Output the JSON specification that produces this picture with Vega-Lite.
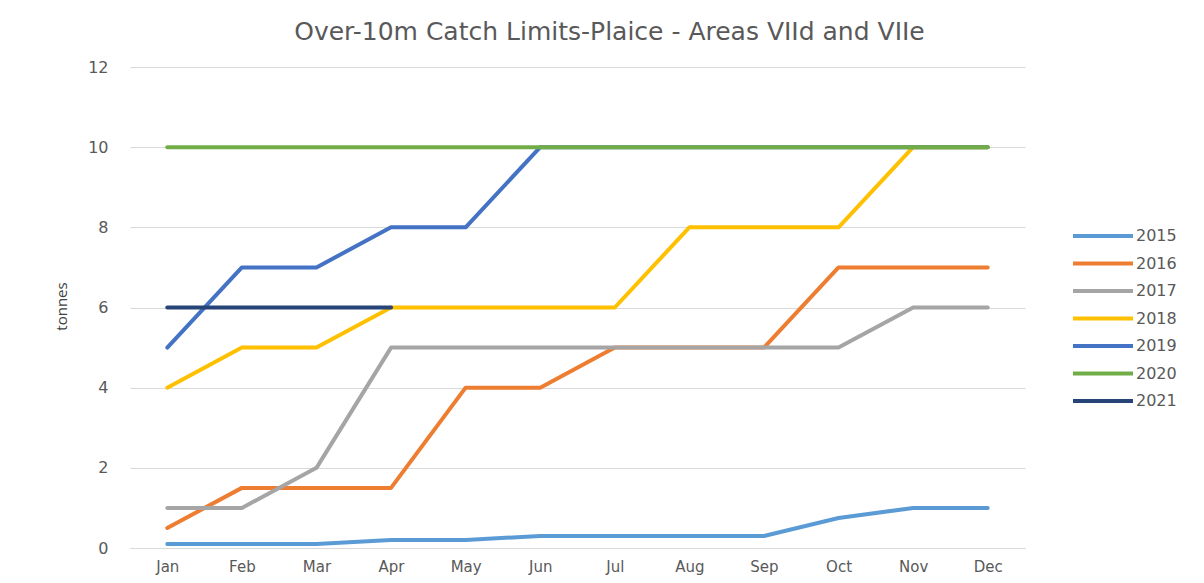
{
  "$schema": "https://vega.github.io/schema/vega-lite/v6.json",
  "width": 895,
  "height": 481,
  "autosize": {"type": "none"},
  "padding": {"left": 130, "top": 67, "right": 179, "bottom": 35},
  "background": "white",
  "title": {
    "text": "Over-10m Catch Limits-Plaice - Areas VIId and VIIe",
    "font": "DejaVu Sans",
    "fontSize": 25,
    "fontWeight": "normal",
    "color": "#595959",
    "anchor": "middle",
    "dx": 32,
    "offset": 14
  },
  "config": {
    "view": {"stroke": null},
    "font": "DejaVu Sans"
  },
  "data": {
    "values": [
      {"month": "Jan", "year": "2015", "v": 0.1},
      {"month": "Feb", "year": "2015", "v": 0.1},
      {"month": "Mar", "year": "2015", "v": 0.1},
      {"month": "Apr", "year": "2015", "v": 0.2},
      {"month": "May", "year": "2015", "v": 0.2},
      {"month": "Jun", "year": "2015", "v": 0.3},
      {"month": "Jul", "year": "2015", "v": 0.3},
      {"month": "Aug", "year": "2015", "v": 0.3},
      {"month": "Sep", "year": "2015", "v": 0.3},
      {"month": "Oct", "year": "2015", "v": 0.75},
      {"month": "Nov", "year": "2015", "v": 1},
      {"month": "Dec", "year": "2015", "v": 1},
      {"month": "Jan", "year": "2016", "v": 0.5},
      {"month": "Feb", "year": "2016", "v": 1.5},
      {"month": "Mar", "year": "2016", "v": 1.5},
      {"month": "Apr", "year": "2016", "v": 1.5},
      {"month": "May", "year": "2016", "v": 4},
      {"month": "Jun", "year": "2016", "v": 4},
      {"month": "Jul", "year": "2016", "v": 5},
      {"month": "Aug", "year": "2016", "v": 5},
      {"month": "Sep", "year": "2016", "v": 5},
      {"month": "Oct", "year": "2016", "v": 7},
      {"month": "Nov", "year": "2016", "v": 7},
      {"month": "Dec", "year": "2016", "v": 7},
      {"month": "Jan", "year": "2017", "v": 1},
      {"month": "Feb", "year": "2017", "v": 1},
      {"month": "Mar", "year": "2017", "v": 2},
      {"month": "Apr", "year": "2017", "v": 5},
      {"month": "May", "year": "2017", "v": 5},
      {"month": "Jun", "year": "2017", "v": 5},
      {"month": "Jul", "year": "2017", "v": 5},
      {"month": "Aug", "year": "2017", "v": 5},
      {"month": "Sep", "year": "2017", "v": 5},
      {"month": "Oct", "year": "2017", "v": 5},
      {"month": "Nov", "year": "2017", "v": 6},
      {"month": "Dec", "year": "2017", "v": 6},
      {"month": "Jan", "year": "2018", "v": 4},
      {"month": "Feb", "year": "2018", "v": 5},
      {"month": "Mar", "year": "2018", "v": 5},
      {"month": "Apr", "year": "2018", "v": 6},
      {"month": "May", "year": "2018", "v": 6},
      {"month": "Jun", "year": "2018", "v": 6},
      {"month": "Jul", "year": "2018", "v": 6},
      {"month": "Aug", "year": "2018", "v": 8},
      {"month": "Sep", "year": "2018", "v": 8},
      {"month": "Oct", "year": "2018", "v": 8},
      {"month": "Nov", "year": "2018", "v": 10},
      {"month": "Dec", "year": "2018", "v": 10},
      {"month": "Jan", "year": "2019", "v": 5},
      {"month": "Feb", "year": "2019", "v": 7},
      {"month": "Mar", "year": "2019", "v": 7},
      {"month": "Apr", "year": "2019", "v": 8},
      {"month": "May", "year": "2019", "v": 8},
      {"month": "Jun", "year": "2019", "v": 10},
      {"month": "Jul", "year": "2019", "v": 10},
      {"month": "Aug", "year": "2019", "v": 10},
      {"month": "Sep", "year": "2019", "v": 10},
      {"month": "Oct", "year": "2019", "v": 10},
      {"month": "Nov", "year": "2019", "v": 10},
      {"month": "Dec", "year": "2019", "v": 10},
      {"month": "Jan", "year": "2020", "v": 10},
      {"month": "Feb", "year": "2020", "v": 10},
      {"month": "Mar", "year": "2020", "v": 10},
      {"month": "Apr", "year": "2020", "v": 10},
      {"month": "May", "year": "2020", "v": 10},
      {"month": "Jun", "year": "2020", "v": 10},
      {"month": "Jul", "year": "2020", "v": 10},
      {"month": "Aug", "year": "2020", "v": 10},
      {"month": "Sep", "year": "2020", "v": 10},
      {"month": "Oct", "year": "2020", "v": 10},
      {"month": "Nov", "year": "2020", "v": 10},
      {"month": "Dec", "year": "2020", "v": 10},
      {"month": "Jan", "year": "2021", "v": 6},
      {"month": "Feb", "year": "2021", "v": 6},
      {"month": "Mar", "year": "2021", "v": 6},
      {"month": "Apr", "year": "2021", "v": 6}
    ]
  },
  "mark": {"type": "line", "strokeWidth": 4, "strokeCap": "round", "strokeJoin": "round"},
  "encoding": {
    "x": {
      "field": "month",
      "type": "ordinal",
      "sort": ["Jan","Feb","Mar","Apr","May","Jun","Jul","Aug","Sep","Oct","Nov","Dec"],
      "scale": {"type": "point", "padding": 0.5},
      "axis": {
        "title": null,
        "labelAngle": 0,
        "ticks": false,
        "grid": false,
        "domain": true,
        "domainColor": "#D9D9D9",
        "labelColor": "#595959",
        "labelFontSize": 15,
        "labelPadding": 11
      }
    },
    "y": {
      "field": "v",
      "type": "quantitative",
      "scale": {"domain": [0, 12]},
      "axis": {
        "title": "tonnes",
        "titleFont": "Open Sans",
        "titleFontSize": 15,
        "titleFontWeight": "normal",
        "titleColor": "#404040",
        "titleX": -61,
        "titleY": 239,
        "titleAngle": -90,
        "values": [0, 2, 4, 6, 8, 10, 12],
        "ticks": false,
        "domain": false,
        "gridColor": "#D9D9D9",
        "gridWidth": 1,
        "labelColor": "#595959",
        "labelFontSize": 16,
        "labelPadding": 22
      }
    },
    "color": {
      "field": "year",
      "type": "nominal",
      "scale": {
        "domain": ["2015","2016","2017","2018","2019","2020","2021"],
        "range": ["#5B9BD5","#ED7D31","#A5A5A5","#FFC000","#4472C4","#70AD47","#264478"]
      },
      "legend": {
        "title": null,
        "orient": "none",
        "legendX": 941,
        "legendY": 152,
        "symbolType": "M-2,0L2,0",
        "symbolSize": 900,
        "symbolStrokeWidth": 4,
        "symbolOffset": 15,
        "labelFontSize": 16,
        "labelColor": "#595959",
        "labelOffset": 16,
        "rowPadding": 2.5
      }
    }
  }
}
